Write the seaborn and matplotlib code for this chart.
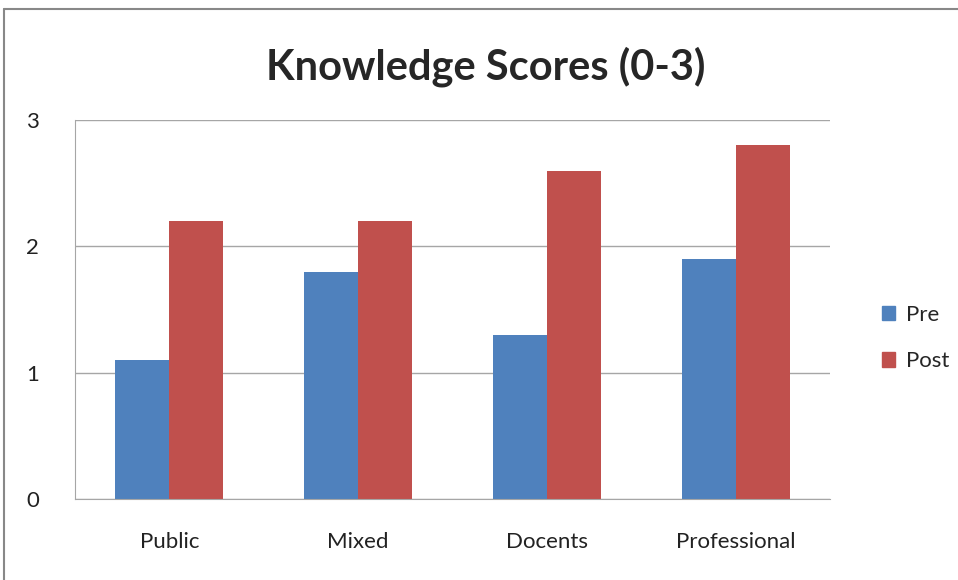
import pandas as pd
import seaborn as sns
import matplotlib.pyplot as plt
from matplotlib.lines import Line2D

# data
groups = ['Public', 'Mixed', 'Docents', 'Professional']
pre = [1.1, 1.8, 1.3, 1.9]
post = [2.2, 2.2, 2.6, 2.8]

df = pd.DataFrame({'Group': groups * 2,
                   'Phase': ['Pre'] * 4 + ['Post'] * 4,
                   'Score': pre + post})

sns.set_style("white")
plt.rcParams['font.family'] = ['Lato', 'DejaVu Sans']

fig = plt.figure(figsize=(9.58, 5.8), dpi=100)
ax = fig.add_axes([75 / 958, 81 / 580, 755 / 958, 379 / 580])

sns.barplot(data=df, x='Group', y='Score', hue='Phase', ax=ax,
            palette={'Pre': '#4F81BD', 'Post': '#C0504D'},
            width=0.571, saturation=1, legend=False, linewidth=0)

ax.set_xlim(-0.5, 3.5)
ax.set_ylim(0, 3)
ax.set_yticks([0, 1, 2, 3])
ax.yaxis.grid(True, color='#A6A6A6', linewidth=1)
ax.set_axisbelow(True)
ax.set_xlabel('')
ax.set_ylabel('')
for s in ['top', 'right']:
    ax.spines[s].set_visible(False)
for s in ['left', 'bottom']:
    ax.spines[s].set_color('#A6A6A6')
ax.tick_params(axis='x', length=0, pad=24, labelsize=16, colors='#222222')
ax.tick_params(axis='y', length=0, pad=26, labelsize=16, colors='#222222')

fig.text(486 / 958, 1 - 67 / 580, 'Knowledge Scores (0-3)', ha='center', va='center',
         fontsize=30, fontweight='bold')

# legend on the right
handles = [plt.Rectangle((0, 0), 1, 1, color='#4F81BD'),
           plt.Rectangle((0, 0), 1, 1, color='#C0504D')]
fig.legend(handles, ['Pre', 'Post'], loc='center left',
           bbox_to_anchor=(862 / 958, 1 - 338 / 580), frameon=False,
           fontsize=16, handlelength=0.6, handleheight=0.6,
           handletextpad=0.5, labelspacing=1.2)

# chart border (top and left edges visible)
fig.add_artist(Line2D([4 / 958, 1], [1 - 9 / 580, 1 - 9 / 580], color='#888888', linewidth=1.5))
fig.add_artist(Line2D([4 / 958, 4 / 958], [0, 1 - 9 / 580], color='#888888', linewidth=1.5))

fig.savefig('out.png', dpi=100)
